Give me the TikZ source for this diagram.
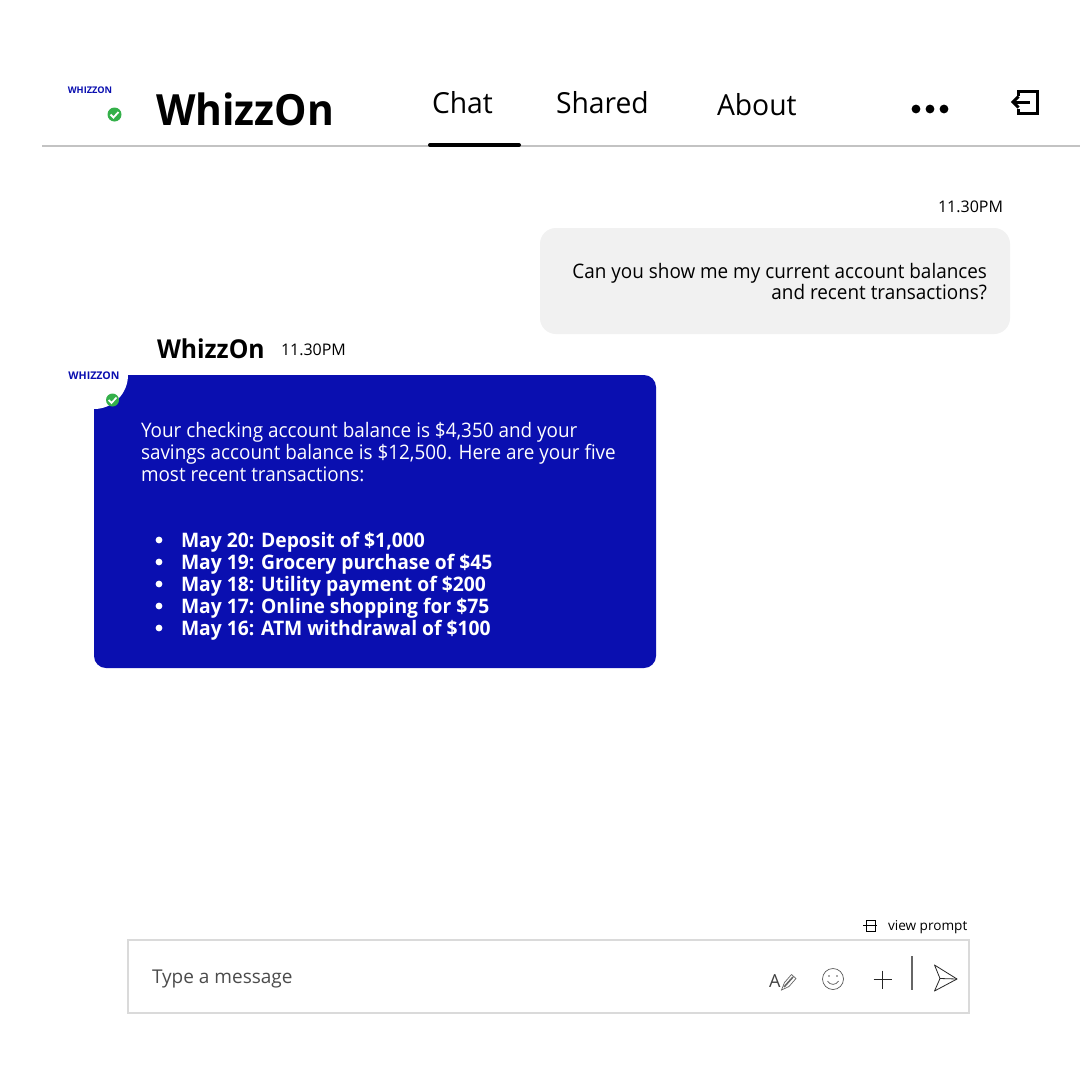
\documentclass[tikz,border=0pt]{standalone}
\usepackage{fontspec}
\setmainfont{Open Sans}
\newfontfamily\uifont[FakeStretch=0.945]{Open Sans}
\newfontfamily\boldfont[FakeStretch=0.965]{Open Sans}
\newfontfamily\brandfont[FakeStretch=0.95]{Open Sans}
\newfontfamily\tabfont[FakeStretch=0.975]{Open Sans}
\usetikzlibrary{positioning}
\definecolor{blue1}{RGB}{10,15,176}
\definecolor{green1}{RGB}{52,176,74}
\definecolor{grey1}{RGB}{241,241,241}
\definecolor{grey2}{RGB}{218,218,218}
\definecolor{grey3}{RGB}{195,195,195}
\newcommand{\fs}[1]{\fontsize{#1}{#1}\selectfont}
\begin{document}
\begin{tikzpicture}[x=1pt, y=-1pt,
    every node/.style={inner sep=0pt, outer sep=0pt},
    tabtext/.style={anchor=base west, font=\tabfont\fs{29}},
    stamp/.style={anchor=base west, font=\fs{16}},
    logotext/.style={anchor=base, font=\fs{#1}\bfseries, text=blue1},
    bubbletext/.style={anchor=base west, font=\uifont\fs{20}, text=white},
    boldline/.style={anchor=base west, font=\boldfont\fs{20}\bfseries, text=white},
    usertext/.style={anchor=base east, font=\uifont\fs{20}},
    icon/.style={line width=1pt, black!85},
    badge/.style={circle, fill=green1, minimum size=14pt}
]
\useasboundingbox (0,0) rectangle (1080,1080);
\fill[white] (0,0) rectangle (1080,1080);

% Header
\node[logotext=9.2] (logotop) at (90,93.5) {WHIZZON};
\node[badge] (badgetop) at (114.5,114.5) {};
\draw[white, line width=1.8pt] (110.5,114.5) -- (113.5,117.5) -- (118.5,112);
\node[anchor=base west, font=\brandfont\fs{43}\bfseries] (brand) at (156,125) {WhizzOn};
\node[tabtext] (chat) at (432,113) {Chat};
\node[tabtext] (shared) at (556,113) {Shared};
\node[tabtext] (about) at (717,115) {About};
\foreach \x in {916,930,944} \fill (\x,109) circle (4.4);
\draw[grey3, line width=2pt] (42,145.5) -- (1080,145.5);
\draw[black, line width=4pt, line cap=round] (430,145) -- (519,145);

% Exit icon
\draw[line width=3pt, line join=miter] (1018.5,96) -- (1018.5,91.5) -- (1037,91.5) -- (1037,113.5) -- (1018.5,113.5) -- (1018.5,109);
\draw[line width=3pt] (1013,102) -- (1030,102);
\draw[line width=3pt, line join=miter] (1018.5,96.5) -- (1013,102) -- (1018.5,107.5);

% User message
\node[stamp, anchor=base east] (timeuser) at (1003,212) {11.30PM};
\fill[grey1, rounded corners=16pt] (540,228) rectangle (1010,334);
\node[usertext] (userone) at (987,278) {Can you show me my current account balances};
\node[usertext] (usertwo) at (987,299) {and recent transactions?};

% Bot message
\node[anchor=base west, font=\brandfont\fs{26}\bfseries] (botname) at (157,358) {WhizzOn};
\node[stamp] (timebot) at (281,355) {11.30PM};
\fill[blue1, rounded corners=12pt] (94,375) rectangle (656,668);
\fill[blue1] (94,375) rectangle (130,420);
\fill[white] (94,375) -- (128,375) arc[start angle=0, end angle=90, radius=34] -- cycle;
\fill[white] (60,360) rectangle (94,409);
\fill[white] (94,360) rectangle (135,375);
\node[logotext=10.6] (logobot) at (94,379) {WHIZZON};
\node[badge, minimum size=13pt] (badgebot) at (112.5,400) {};
\draw[white, line width=1.7pt] (108.7,400) -- (111.5,403) -- (116.5,397.5);

\node[bubbletext] (bodyone) at (141,437) {Your checking account balance is \$4,350 and your};
\node[bubbletext] (bodytwo) at (141,459) {savings account balance is \$12,500. Here are your five};
\node[bubbletext] (bodythree) at (141,481) {most recent transactions:};
\foreach \y/\t in {547/May 20: Deposit of \$1{,}000,
                   569/May 19: Grocery purchase of \$45,
                   591/May 18: Utility payment of \$200,
                   613/May 17: Online shopping for \$75,
                   635/May 16: ATM withdrawal of \$100} {
    \fill[white] (159,\y-7) circle (3.4);
    \node[boldline] at (181,\y) {\t};
}

% Input box
\node[anchor=base west, font=\fs{13.6}] (viewprompt) at (888,930) {view prompt};
\draw[line width=0.7pt] (866,920) rectangle (875,931);
\draw[line width=0.7pt] (863,925.5) -- (877,925.5);
\draw[grey2, line width=2pt] (128,940) rectangle (969,1013);
\node[anchor=base west, font=\fs{19}, text=black!70] (typemsg) at (152,983) {Type a message};

% Icons
\node[anchor=base west, font=\fs{18}, text=black!75] (fontA) at (769,987) {A};
\draw[black!60, line width=1.6pt] (784,987) -- (793,977);
\draw[black!60, line width=0.7pt] (781.5,990) -- (784.5,982.5) -- (791.5,974.5) -- (796,978.5) -- (789,986.5) -- cycle;
\draw[black!65, line width=0.7pt] (833,979) circle (10.5);
\fill[black!65] (829,976) circle (0.8) (837,976) circle (0.8);
\draw[black!65, line width=0.7pt] (827.5,981) .. controls (830,985.5) and (836,985.5) .. (838.5,981);
\draw[black!85, line width=1.6pt] (873.5,979.5) -- (891.5,979.5);
\draw[black!85, line width=1.6pt] (882.5,970.5) -- (882.5,988.5);
\draw[black!60, line width=1.2pt] (912,956) -- (912,990);
\draw[icon, line width=0.8pt, line join=round] (934.5,965) -- (957,979) -- (934.5,991) -- (940,978.5) -- cycle;
\draw[icon, line width=0.8pt] (940,978.5) -- (957,979);

\end{tikzpicture}
\end{document}
